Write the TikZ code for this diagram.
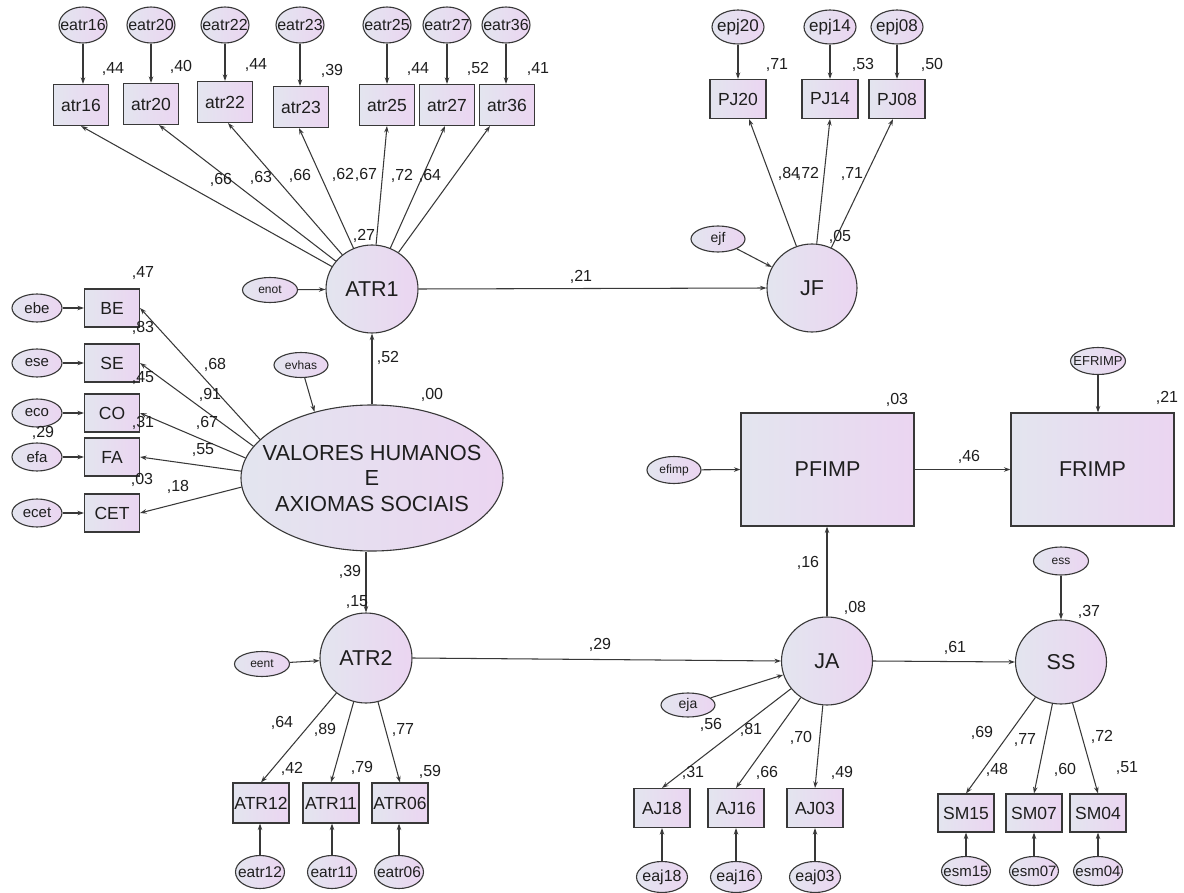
\documentclass[tikz,border=0pt]{standalone}
\usepackage{fontspec}
\setmainfont{Liberation Sans}
\usetikzlibrary{shapes.geometric,arrows.meta}
\definecolor{gl}{HTML}{E3E5EF}
\definecolor{gr}{HTML}{EBD5F1}
\definecolor{ln}{HTML}{383838}
\definecolor{tx}{HTML}{1E1E1E}
\begin{document}
\begin{tikzpicture}[x=1pt,y=-1pt,
  fs/.style={font=\fontsize{#1}{#1}\selectfont},
  shp/.style={draw=ln, line width=1.1pt, left color=gl, right color=gr, inner sep=0pt, text=tx},
  err/.style={shp, ellipse, minimum width=48pt, minimum height=36pt},
  serr/.style={shp, ellipse, minimum width=54pt, minimum height=26pt},
  lat/.style={shp, ellipse, minimum width=92pt, minimum height=88pt},
  obs/.style={shp, rectangle, minimum width=55pt, minimum height=40pt, fs=17.5},
  val/.style={fs=16, text=tx, inner sep=0pt},
  arr/.style={draw=ln, line width=1.05pt, -{Stealth[length=6.5pt,width=4.5pt]}},
  lab/.style={text=tx, inner sep=0pt}
]
\fill[white] (0,0) rectangle (1184,893);
\useasboundingbox (0,0) rectangle (1184,893);

% ---------- ATR1 block ----------
\node[lat, label={[lab,fs=21.5]center:ATR1}] (ATR1) at (372,289) {};
\node[serr, minimum width=55pt, minimum height=25pt, label={[lab,fs=12]center:enot}] (enot) at (270,290) {};
\draw[arr] (enot) -- (ATR1);

\foreach \n/\x/\bx/\by/\vx/\vy/\r/\dx in {16/83/81/105/113/69/44/0, 20/151/151/104/181/67/40/8, 22/225/225/102/256/65/44/3, 23/300/301/107/332/71/39/-2, 25/387/387/105/418/69/44/0, 27/447/447/105/478/69/52/-2, 36/506/507/105/538/69/41/-17}{
  \node[err, label={[lab,fs=16]center:eatr\n}] (eatr\n) at (\x,25) {};
  \node[obs, minimum height=41pt] (atr\n) at (\bx,\by) {atr\n};
  \node[val] (vatr\n) at (\vx,\vy) {,\r};
  \draw[arr] (eatr\n.south) -- (eatr\n.south |- atr\n.north);
  \draw[arr] (ATR1) -- ([xshift=\dx pt]atr\n.south);
}
\node[val] (l16) at (221,180) {,66};
\node[val] (l20) at (261,178) {,63};
\node[val] (l22) at (300,176) {,66};
\node[val] (l23) at (343,175) {,62};
\node[val] (l25) at (366,175) {,67};
\node[val] (l27) at (402,176) {,72};
\node[val] (l36) at (430,176) {,64};
\node[val] (r1) at (364,236) {,27};

% ---------- JF block ----------
\node[lat, minimum width=90pt, label={[lab,fs=21.5]center:JF}] (JF) at (812,288) {};
\node[serr, label={[lab,fs=14]center:ejf}] (ejf) at (718,239) {};
\draw[arr] (ejf) -- (JF);
\draw[arr] (ATR1.east) -- (JF.west);
\node[val] (b21) at (581,277) {,21};
\foreach \n/\x/\r/\vx/\dx in {20/738/71/777/11, 14/830/53/863/0, 08/897/50/932/-4}{
  \node[err, minimum width=52pt, minimum height=34pt, label={[lab,fs=17]center:epj\n}] (epj\n) at (\x,27) {};
  \node[obs, minimum width=56pt, minimum height=39pt] (PJ\n) at (\x,99) {PJ\n};
  \node[val] (vpj\n) at (\vx,65) {,\r};
  \draw[arr] (epj\n.south) -- (epj\n.south |- PJ\n.north);
  \draw[arr] (JF) -- ([xshift=\dx pt]PJ\n.south);
}
\node[val] (l84) at (789,174) {,84};
\node[val] (l72) at (808,174) {,72};
\node[val] (l71) at (852,174) {,71};
\node[val] (r05) at (840,237) {,05};

% ---------- VHAS block ----------
\node[shp, ellipse, minimum width=262pt, minimum height=146pt,
  label={[lab,align=center,font=\fontsize{21.8}{25.5}\selectfont]center:{VALORES HUMANOS\\E\\AXIOMAS SOCIAIS}}] (VHAS) at (372,478) {};
\node[serr, minimum height=25pt, label={[lab,fs=12]center:evhas}] (evhas) at (301,365) {};
\draw[arr] (evhas) -- (VHAS.131);
\draw[arr] (VHAS.north) -- (ATR1.south);
\node[val] (b52) at (388,358) {,52};
\node[val] (r00) at (432,395) {,00};

\foreach \b/\e/\y/\a in {BE/ebe/308/161, SE/ese/363/165, CO/eco/413/171, FA/efa/457/177, CET/ecet/513/184}{
  \node[obs, minimum height=38pt] (\b) at (112,\y) {\b};
  \node[shp, ellipse, minimum width=50pt, minimum height=28pt, label={[lab,fs=15]center:\e}] (\e) at (37,\y) {};
  \draw[arr] (\e) -- (\b);
  \draw[arr] (VHAS.\a) -- (\b.east);
}
\node[val] (rbe) at (143,273) {,47};
\node[val] (rse) at (143,328) {,83};
\node[val] (rco) at (143,378) {,45};
\node[val] (rfa) at (143,423) {,31};
\node[val] (rfb) at (43,433) {,29};
\node[val] (rce) at (142,480) {,03};
\node[val] (lbe) at (215,365) {,68};
\node[val] (lse) at (210,395) {,91};
\node[val] (lco) at (207,423) {,67};
\node[val] (lfa) at (203,450) {,55};
\node[val] (lce) at (178,487) {,18};

% ---------- ATR2 block ----------
\node[lat, minimum height=90pt, label={[lab,fs=21.5]center:ATR2}] (ATR2) at (366,658) {};
\draw[arr] (VHAS.south -| ATR2.north) -- (ATR2.north);
\node[val] (b39) at (350,572) {,39};
\node[val] (r15) at (357,602) {,15};
\node[serr, minimum width=55pt, minimum height=25pt, label={[lab,fs=12]center:eent}] (eent) at (262,664) {};
\draw[arr] (eent) -- (ATR2);
\foreach \n/\x/\ex in {12/261/260, 11/331/332, 06/400/399}{
  \node[obs, minimum width=56pt] (ATR\n) at (\x,803) {ATR\n};
  \node[err, minimum width=49pt, minimum height=33pt, label={[lab,fs=15.5]center:eatr\n}] (eatr\n) at (\ex,872) {};
  \draw[arr] (eatr\n.north) -- (eatr\n.north |- ATR\n.south);
  \draw[arr] (ATR2) -- (ATR\n.north);
}
\node[val] (l12) at (282,723) {,64};
\node[val] (l11) at (325,730) {,89};
\node[val] (l06) at (403,730) {,77};
\node[val] (r12) at (292,769) {,42};
\node[val] (r11) at (362,768) {,79};
\node[val] (r06) at (430,772) {,59};

% ---------- JA block ----------
\node[lat, minimum width=91pt, label={[lab,fs=21.5]center:JA}] (JA) at (827,661) {};
\draw[arr] (ATR2.east) -- (JA.west);
\node[val] (b29) at (600,645) {,29};
\node[serr, minimum height=24pt, label={[lab,fs=14]center:eja}] (eja) at (688,705) {};
\draw[arr] (eja) -- (JA);
\foreach \n/\x in {18/662, 16/736, 03/815}{
  \node[obs, minimum width=56pt, minimum height=39pt] (AJ\n) at (\x,808) {AJ\n};
  \node[err, minimum width=51pt, minimum height=31pt, label={[lab,fs=16]center:eaj\n}] (eaj\n) at (\x,877) {};
  \draw[arr] (eaj\n.north) -- (eaj\n.north |- AJ\n.south);
  \draw[arr] (JA) -- (AJ\n.north);
}
\node[val] (l18) at (711,725) {,56};
\node[val] (l16b) at (751,730) {,81};
\node[val] (l03) at (801,738) {,70};
\node[val] (r18) at (693,773) {,31};
\node[val] (r16) at (767,773) {,66};
\node[val] (r03) at (842,773) {,49};
\node[val] (rja) at (855,608) {,08};

% ---------- PFIMP / FRIMP ----------
\node[shp, rectangle, minimum width=173pt, minimum height=113pt, fs=21.5] (PFIMP) at (827.5,469.5) {PFIMP};
\node[shp, rectangle, minimum width=163pt, minimum height=113pt, fs=21.5] (FRIMP) at (1092.5,469.5) {FRIMP};
\node[serr, minimum height=27pt, label={[lab,fs=12]center:efimp}] (efimp) at (674,470) {};
\node[serr, minimum width=55pt, minimum height=27pt, label={[lab,fs=13]center:EFRIMP}] (EFRIMP) at (1098,361) {};
\draw[arr] (efimp) -- (PFIMP.west);
\draw[arr] (PFIMP.east) -- (FRIMP.west);
\draw[arr] (EFRIMP.south) -- (EFRIMP.south |- FRIMP.north);
\draw[arr] (JA.north) -- (JA.north |- PFIMP.south);
\node[val] (r03p) at (897,400) {,03};
\node[val] (r21f) at (1167,398) {,21};
\node[val] (b46) at (969,457) {,46};
\node[val] (b16) at (808,563) {,16};

% ---------- SS block ----------
\node[lat, minimum width=91pt, minimum height=84pt, label={[lab,fs=21.5]center:SS}] (SS) at (1061,662) {};
\draw[arr] (JA.east) -- (SS.west);
\node[val] (b61) at (955,648) {,61};
\node[serr, minimum width=55pt, minimum height=28pt, label={[lab,fs=12]center:ess}] (ess) at (1061,561) {};
\draw[arr] (ess.south) -- (ess.south |- SS.north);
\node[val] (rss) at (1089,612) {,37};
\foreach \n/\x in {15/966, 07/1034, 04/1098}{
  \node[obs, minimum width=56pt, minimum height=38pt] (SM\n) at (\x,813) {SM\n};
  \node[err, minimum width=49pt, minimum height=29pt, label={[lab,fs=15]center:esm\n}] (esm\n) at (\x,871) {};
  \draw[arr] (esm\n.north) -- (esm\n.north |- SM\n.south);
  \draw[arr] (SS) -- (SM\n.north);
}
\node[val] (l15) at (982,733) {,69};
\node[val] (l07) at (1025,740) {,77};
\node[val] (l04) at (1102,737) {,72};
\node[val] (r15s) at (997,770) {,48};
\node[val] (r07) at (1065,770) {,60};
\node[val] (r04) at (1127,768) {,51};
\end{tikzpicture}
\end{document}
